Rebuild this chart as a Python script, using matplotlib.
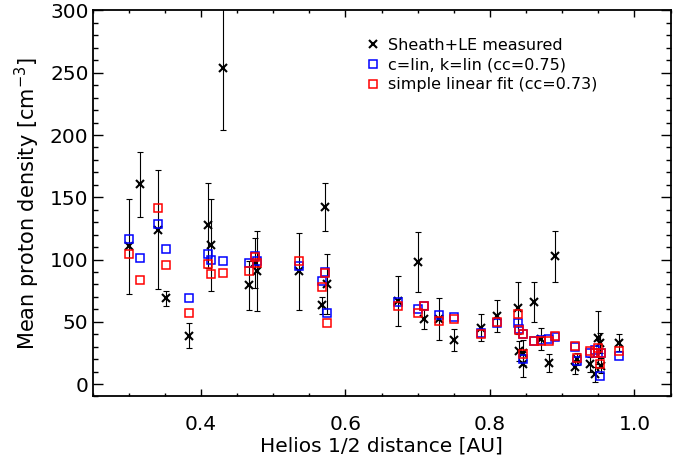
import matplotlib
matplotlib.use('Agg')
import matplotlib.pyplot as plt
from matplotlib.ticker import MultipleLocator

# Helios 1/2 events: distance, measured density (+ error), two model estimates
dist = [0.300, 0.316, 0.340, 0.351, 0.384, 0.410, 0.414, 0.431, 0.467, 0.4745,
        0.478, 0.535, 0.568, 0.572, 0.575, 0.673, 0.701, 0.709, 0.730, 0.750,
        0.788, 0.810, 0.839, 0.840, 0.846, 0.846, 0.861, 0.871, 0.882, 0.890,
        0.918, 0.920, 0.939, 0.945, 0.950, 0.952, 0.954, 0.979]
measured = [110.7, 160.5, 124.0, 68.8, 38.7, 127.5, 112.0, 254.0, 79.2, 97.0,
            91.0, 90.7, 63.2, 142.1, 80.5, 66.7, 97.9, 52.0, 52.3, 35.5,
            45.3, 54.7, 61.3, 26.7, 25.3, 16.0, 65.9, 36.0, 16.8, 102.7,
            13.3, 20.0, 16.0, 8.0, 37.3, 33.0, 14.7, 33.3]
meas_err = [38, 26, 48, 6, 10, 34, 37, 50, 20, 20,
            32, 31, 7, 19, 24, 20, 24, 8, 17, 9,
            11, 13, 21, 8, 10, 10, 16, 9, 7.5, 20.4,
            5, 5, 6, 6, 21, 8, 6, 7]
cc_lin = [116.8, 101.3, 128.3, 108.5, 69.3, 104.8, 99.5, 98.7, 97.0, 103.2,
          99.0, 94.7, 82.7, 89.9, 57.3, 66.0, 60.5, 62.7, 55.2, 54.1,
          41.3, 48.8, 49.3, 44.0, 40.0, 20.0, 34.7, 35.5, 36.0, 37.9,
          29.9, 18.7, 25.0, 27.0, 25.3, 6.1, 25.3, 22.7]
simple_fit = [104.3, 83.2, 141.3, 95.2, 56.8, 96.8, 88.5, 89.0, 90.7, 102.0,
              97.3, 98.7, 77.9, 89.0, 48.8, 62.7, 57.3, 63.0, 50.7, 52.0,
              40.0, 50.1, 56.0, 43.5, 40.0, 24.0, 34.7, 34.7, 34.7, 38.7,
              30.7, 21.3, 26.7, 25.3, 29.3, 16.0, 25.3, 26.7]

plt.rcParams['font.family'] = 'DejaVu Sans'

fig = plt.figure(figsize=(6.73, 4.62), dpi=100)
ax = fig.add_axes([0.1377, 0.1418, 0.8586, 0.8355])

ax.errorbar(dist, measured, yerr=meas_err, fmt='none', ecolor='black',
            elinewidth=0.8, capsize=2.5, capthick=0.8, zorder=2)
ax.plot(dist, measured, 'x', color='black', markersize=6.3, mew=1.5,
        label='Sheath+LE measured', zorder=3)
ax.plot(dist, cc_lin, 's', mfc='none', mec='#0000ff', markersize=6.0,
        mew=1.1, label='c=lin, k=lin (cc=0.75)', zorder=4)
ax.plot(dist, simple_fit, 's', mfc='none', mec='#ff0000', markersize=6.0,
        mew=1.1, label='simple linear fit (cc=0.73)', zorder=5)

ax.set_xlim(0.25, 1.05)
ax.set_ylim(-10, 300)
ax.xaxis.set_major_locator(MultipleLocator(0.2))
ax.xaxis.set_minor_locator(MultipleLocator(0.05))
ax.yaxis.set_major_locator(MultipleLocator(50))
ax.yaxis.set_minor_locator(MultipleLocator(10))
ax.set_xticks([0.4, 0.6, 0.8, 1.0])
ax.set_xticklabels(['0.4', '0.6', '0.8', '1.0'])

ax.tick_params(which='both', direction='in', top=True, right=True,
               labelsize=14.5, width=1.0)
ax.tick_params(axis='x', which='major', length=5, pad=13)
ax.tick_params(axis='x', which='minor', length=2.5)
ax.tick_params(axis='y', which='major', length=7.5, pad=3)
ax.tick_params(axis='y', which='minor', length=3.5)
for s in ax.spines.values():
    s.set_linewidth(1.3)

ax.set_xlabel('Helios 1/2 distance [AU]', fontsize=14.5, labelpad=2)
ax.set_ylabel('Mean proton density [cm$^{-3}$]', fontsize=15, labelpad=6)

ax.legend(loc='upper left', bbox_to_anchor=(0.462, 0.95), frameon=False,
          fontsize=11.5, handlelength=0.7, handletextpad=0.6,
          labelspacing=0.3, borderpad=0, markerscale=0.85)

fig.savefig('out.png', dpi=100)
